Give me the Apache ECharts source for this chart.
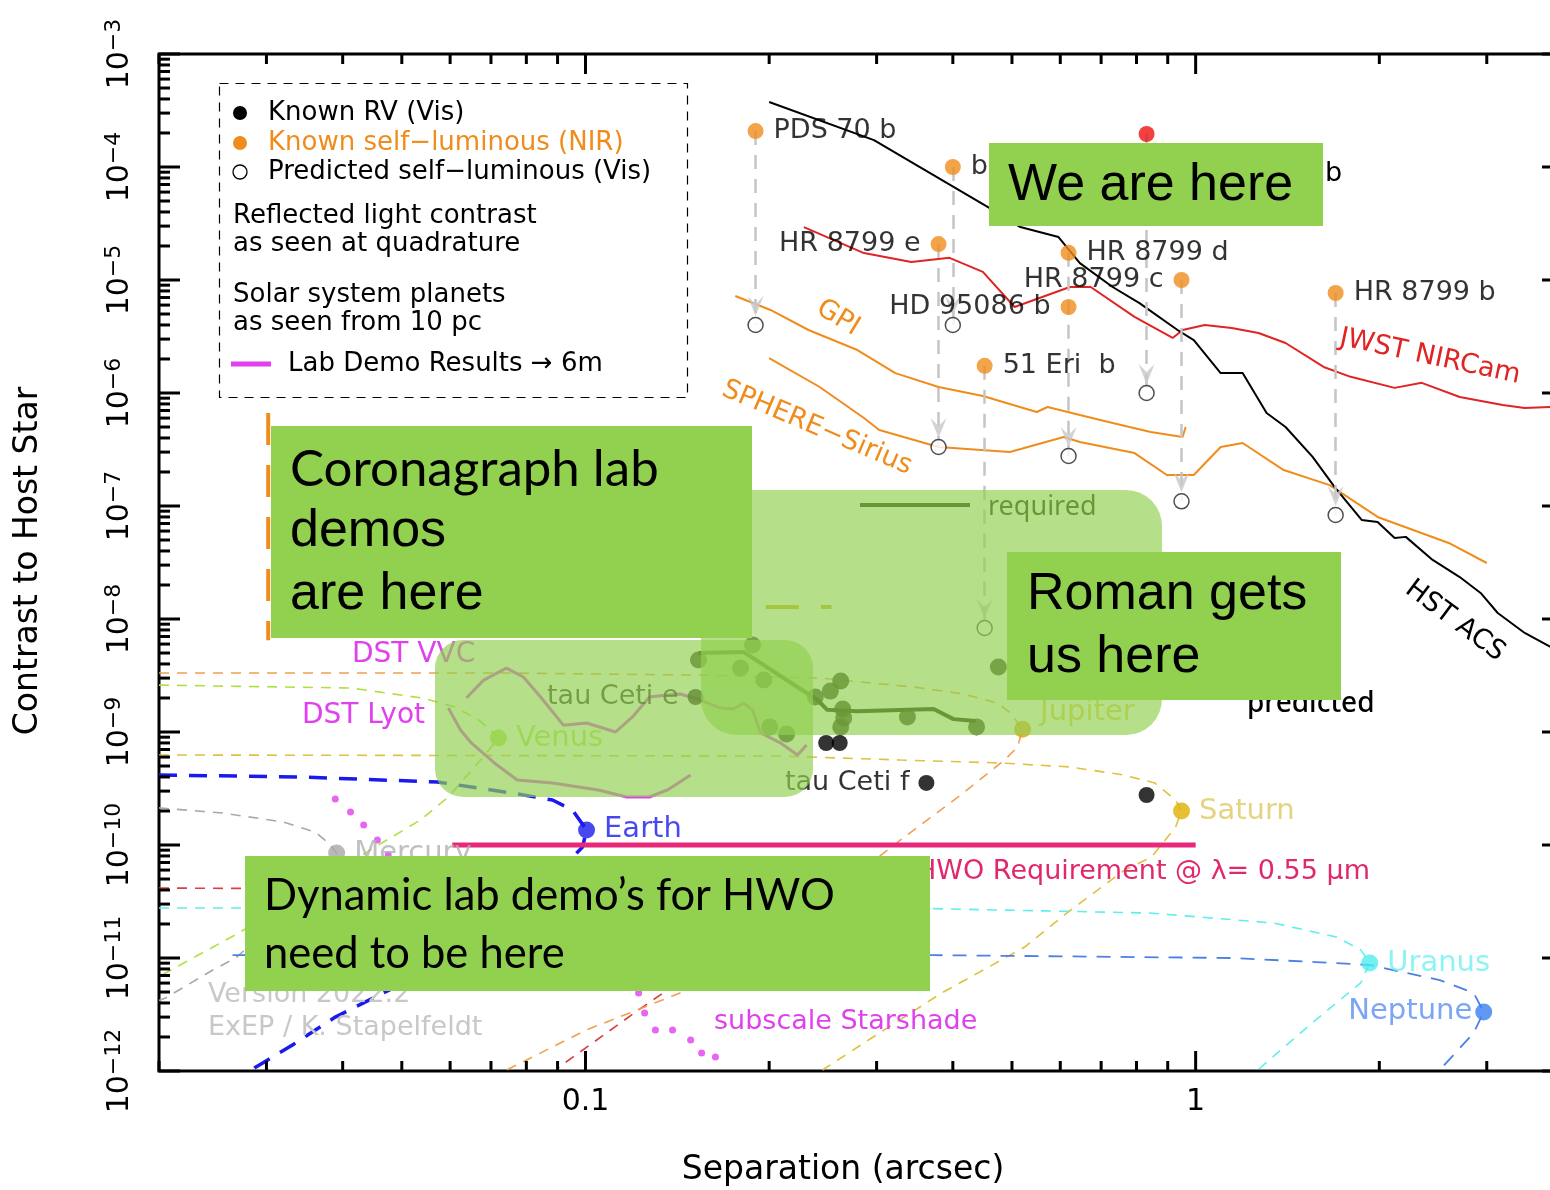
<!DOCTYPE html>
<html>
<head>
<meta charset="utf-8">
<title>Contrast to Host Star vs Separation</title>
<script src="https://cdn.jsdelivr.net/npm/echarts@6/dist/echarts.min.js"></script>
<style>
  html, body { margin: 0; padding: 0; background: #fff; }
  #chart { width: 1550px; height: 1190px; }
</style>
</head>
<body>
<div id="chart"></div>
<script>
  // ---- axes ----
  var xMajorTicks = [0.1, 1];
  var xMinorTicks = [0.02, 0.03, 0.04, 0.05, 0.06, 0.07, 0.08, 0.09,
                     0.2, 0.3, 0.4, 0.5, 0.6, 0.7, 0.8, 0.9, 2, 3, 4];
  var yMajorTicks = [1e-3, 1e-4, 1e-5, 1e-6, 1e-7, 1e-8, 1e-9, 1e-10, 1e-11, 1e-12];
  var yMinorSteps = [2, 3, 4, 5, 6, 7, 8, 9];

  // ---- instrument curves [separation arcsec, contrast] ----
  var hstAcs = [[0.200, 3.76e-4], [0.297, 1.73e-4], [0.456, 4.43e-5], [0.516, 2.94e-5], [0.596, 2.40e-5],
    [0.646, 1.41e-5], [0.731, 8.67e-6], [0.809, 6.25e-6], [0.934, 3.61e-6], [0.993, 2.94e-6],
    [1.099, 1.50e-6], [1.194, 1.50e-6], [1.307, 6.65e-7], [1.404, 5.00e-7], [1.555, 2.72e-7],
    [1.690, 1.47e-7], [1.871, 7.52e-8], [1.987, 7.22e-8], [2.119, 5.21e-8], [2.210, 5.33e-8],
    [2.446, 3.33e-8], [2.709, 2.35e-8], [2.931, 1.70e-8], [3.127, 1.13e-8], [3.462, 7.52e-9],
    [3.819, 5.65e-9], [4.0, 5.0e-9]];
  var jwstNircam = [[0.228, 2.94e-5], [0.286, 1.73e-5], [0.342, 1.44e-5], [0.395, 1.57e-5], [0.448, 1.18e-5],
    [0.505, 5.77e-6], [0.622, 8.67e-6], [0.673, 8.67e-6], [0.794, 4.71e-6], [0.917, 3.07e-6],
    [0.952, 3.61e-6], [1.035, 4.0e-6], [1.146, 3.76e-6], [1.268, 3.40e-6], [1.404, 2.77e-6],
    [1.621, 1.70e-6], [1.795, 1.39e-6], [2.119, 1.11e-6], [2.347, 1.23e-6], [2.709, 9.22e-7],
    [3.186, 7.83e-7], [3.462, 7.37e-7], [3.819, 7.52e-7], [4.0, 7.3e-7]];
  var gpi = [[0.176, 7.22e-6], [0.201, 5.43e-6], [0.232, 3.61e-6], [0.279, 2.40e-6], [0.322, 1.50e-6],
    [0.379, 1.13e-6], [0.448, 9.4e-7], [0.549, 6.79e-7], [0.572, 7.52e-7], [0.646, 6.38e-7],
    [0.731, 5.43e-7], [0.844, 4.52e-7], [0.952, 4.08e-7], [0.963, 5.0e-7]];
  var sphereSirius = [[0.200, 2.04e-6], [0.242, 1.13e-6], [0.286, 6.01e-7], [0.303, 4.71e-7], [0.379, 3.33e-7],
    [0.496, 3.0e-7], [0.608, 4.08e-7], [0.646, 3.68e-7], [0.794, 2.94e-7], [0.897, 1.88e-7],
    [0.993, 1.88e-7], [1.099, 3.33e-7], [1.194, 3.61e-7], [1.394, 2.08e-7], [1.658, 1.53e-7],
    [1.987, 8.0e-8], [2.599, 4.71e-8], [3.0, 3.13e-8]];

  // ---- known self-luminous planets (NIR) and their predicted visible contrast ----
  var selfLumNames = ['PDS 70 b', 'b', 'HR 8799 e', 'HR 8799 d', 'HR 8799 c', 'HD 95086 b', 'HR 8799 b', '51 Eri  b'];
  var selfLumSide = ['right', 'right', 'left', 'right', 'left', 'left', 'right', 'right'];
  var selfLumSep = [0.190, 0.400, 0.379, 0.619, 0.948, 0.619, 1.696, 0.451];
  var selfLumContrast = [2.08e-4, 1.0e-4, 2.08e-5, 1.74e-5, 1.0e-5, 5.77e-6, 7.67e-6, 1.74e-6];
  var redPlanet = [[0.831, 1.96e-4]];

  var predSep = [0.190, 0.400, 0.379, 0.619, 0.948, 1.696, 0.451, 0.831];
  var predTop = [2.08e-4, 1.0e-4, 2.08e-5, 1.74e-5, 1.0e-5, 7.67e-6, 1.74e-6, 1.96e-4];
  var predContrast = [4.0e-6, 4.0e-6, 3.33e-7, 2.77e-7, 1.10e-7, 8.33e-8, 8.33e-9, 1.0e-6];

  // ---- known RV planets ----
  var rvNames = ['tau Ceti e', '', '', 'tau Ceti f', ''];
  var rvSep = [0.1515, 0.248, 0.261, 0.362, 0.831];
  var rvContrast = [2.04e-9, 7.99e-10, 7.99e-10, 3.54e-10, 2.77e-10];

  // ---- Roman predicted points and required curve ----
  var romanSep = [0.1532, 0.1878, 0.1795, 0.196, 0.238, 0.252, 0.262, 0.264, 0.265, 0.262, 0.2004, 0.2136, 0.337, 0.4375, 0.475];
  var romanContrast = [4.34e-9, 5.89e-9, 3.68e-9, 2.88e-9, 2.04e-9, 2.30e-9, 2.83e-9, 1.60e-9, 1.33e-9, 1.11e-9, 1.11e-9, 9.6e-10, 1.36e-9, 1.11e-9, 3.76e-9];
  var romanRequired = [[0.1532, 5.0e-9], [0.1816, 5.1e-9], [0.240, 1.92e-9], [0.249, 1.57e-9], [0.279, 1.53e-9],
    [0.372, 1.60e-9], [0.401, 1.30e-9], [0.436, 1.25e-9]];

  // ---- lab demos ----
  var labDemoVvc = [[0.0638, 2.0e-9], [0.0681, 2.88e-9], [0.0742, 3.68e-9], [0.0791, 3.07e-9], [0.0844, 2.04e-9],
    [0.0920, 1.15e-9], [0.1004, 1.2e-9], [0.1120, 1.0e-9], [0.1194, 1.36e-9], [0.1273, 2.04e-9],
    [0.1363, 2.13e-9], [0.1431, 2.17e-9], [0.1543, 1.92e-9], [0.1664, 1.63e-9], [0.1748, 1.60e-9],
    [0.1816, 1.80e-9], [0.1878, 1.57e-9], [0.1936, 9.8e-10], [0.2088, 8.0e-10], [0.2226, 6.26e-10], [0.2303, 7.67e-10]];
  var labDemoLyot = [[0.0596, 1.63e-9], [0.0624, 1.04e-9], [0.0650, 8.0e-10], [0.0709, 5.32e-10], [0.0773, 3.76e-10],
    [0.0883, 3.54e-10], [0.1050, 3.07e-10], [0.1168, 2.66e-10], [0.1273, 2.66e-10], [0.1363, 3.07e-10], [0.1487, 4.16e-10]];
  var starshadeDots = [[0.0389, 2.55e-10], [0.0412, 1.96e-10], [0.0433, 1.50e-10], [0.0456, 1.11e-10], [0.0475, 8.16e-11],
    [0.1222, 4.9e-12], [0.125, 3.26e-12], [0.1302, 2.31e-12], [0.1389, 2.31e-12], [0.1487, 1.88e-12], [0.155, 1.44e-12], [0.1633, 1.33e-12]];
  var hwoRequirement = [[0.0605, 1e-10], [1.0, 1e-10]];
  var orangeDashLeft = [[0.0302, 6.65e-7], [0.0302, 6.5e-9]];
  var goldDashMid = [[0.0305, 1.28e-8], [0.253, 1.28e-8]];

  // ---- solar system planets seen from 10 pc ----
  var mercuryCurve = [[0.02, 2.13e-10], [0.0254, 1.92e-10], [0.0319, 1.6e-10], [0.0361, 1.3e-10], [0.0379, 1.04e-10],
    [0.0391, 8.5e-11], [0.0328, 2.66e-11], [0.0267, 1.0e-11], [0.0245, 7.83e-12], [0.0205, 4.43e-12], [0.02, 4.2e-12]];
  var venusCurve = [[0.02, 2.6e-9], [0.0412, 2.45e-9], [0.0540, 2.0e-9], [0.0612, 1.66e-9], [0.0668, 1.28e-9],
    [0.0699, 1.04e-9], [0.0720, 8.85e-10], [0.0673, 5.65e-10], [0.0596, 2.66e-10], [0.0536, 1.66e-10],
    [0.0452, 9.6e-11], [0.0341, 3.61e-11], [0.0270, 1.66e-11], [0.0205, 7.37e-12], [0.02, 7.0e-12]];
  var earthCurve = [[0.02, 4.16e-10], [0.0341, 4.0e-10], [0.0572, 3.61e-10], [0.0759, 2.88e-10], [0.0883, 2.5e-10],
    [0.0952, 2.04e-10], [0.1004, 1.36e-10], [0.0989, 9.6e-11], [0.0782, 2.66e-11], [0.0601, 9.6e-12],
    [0.0452, 4.51e-12], [0.0389, 3.0e-12], [0.0331, 1.7e-12], [0.0288, 1.08e-12], [0.0283, 1.0e-12]];
  var marsCurve = [[0.02, 4.16e-11], [0.1019, 4.0e-11], [0.1378, 3.47e-11], [0.1515, 2.55e-11], [0.1487, 1.96e-11],
    [0.1347, 5.0e-12], [0.1222, 3.47e-12], [0.090, 1.06e-12]];
  var jupiterCurve = [[0.02, 3.33e-9], [0.0726, 3.33e-9], [0.1543, 3.19e-9], [0.2427, 3.0e-9], [0.345, 2.5e-9],
    [0.4165, 2.17e-9], [0.4736, 1.8e-9], [0.4973, 1.47e-9], [0.5205, 1.06e-9], [0.5107, 7.37e-10],
    [0.4862, 5.65e-10], [0.412, 2.77e-10], [0.3284, 1.11e-10], [0.2252, 2.26e-11], [0.1543, 5.77e-12],
    [0.1004, 2.31e-12], [0.0742, 1.02e-12]];
  var saturnCurve = [[0.02, 6.26e-10], [0.2088, 6.13e-10], [0.3284, 5.65e-10], [0.479, 5.32e-10], [0.624, 4.9e-10],
    [0.762, 4.16e-10], [0.857, 3.54e-10], [0.927, 2.5e-10], [0.948, 2.0e-10], [0.927, 1.44e-10],
    [0.847, 7.83e-11], [0.765, 6.01e-11], [0.615, 2.5e-11], [0.5245, 1.25e-11], [0.3835, 4.9e-12],
    [0.291, 1.88e-12], [0.2446, 1.02e-12]];
  var uranusCurve = [[0.02, 2.77e-11], [0.3284, 2.77e-11], [0.841, 2.5e-11], [1.342, 2.04e-11], [1.703, 1.53e-11],
    [1.864, 1.18e-11], [1.929, 9.03e-12], [1.864, 6.01e-12], [1.573, 2.83e-12], [1.264, 1.02e-12]];
  var neptuneCurve = [[0.0264, 1.06e-11], [0.372, 1.06e-11], [1.150, 1.0e-11], [1.573, 9.2e-12], [1.929, 8.67e-12],
    [2.512, 6.38e-12], [2.855, 4.9e-12], [2.966, 3.33e-12], [2.855, 2.17e-12], [2.512, 1.02e-12]];

  var planetNames = ['Mercury', 'Venus', 'Earth', 'Jupiter', 'Saturn', 'Uranus', 'Neptune'];
  var planetSep = [0.0391, 0.0720, 0.1004, 0.5205, 0.948, 1.929, 2.966];
  var planetContrast = [8.5e-11, 8.85e-10, 1.36e-10, 1.06e-9, 2.0e-10, 9.03e-12, 3.33e-12];
  var planetColors = ['#a8a8a8', '#a8e038', '#1a1aee', '#e0a010', '#e0b000', '#50eeee', '#3a7ef0'];
  var planetLabelColors = ['#b0b0b0', '#a8e038', '#1a1aee', '#e0c030', '#e0c860', '#70f0f0', '#5a90f0'];

  var FONT = '"DejaVu Sans", sans-serif';
  var ORANGE = '#f08c1c';
  var MAGENTA = '#e040ee';

  function pairs(xs, ys) {
    return xs.map(function (x, i) { return [x, ys[i]]; });
  }

  function curve(data, color, width, dash) {
    return {
      type: 'line', data: data, symbol: 'none', silent: true, z: 2,
      lineStyle: { color: color, width: width, type: dash || 'solid' }
    };
  }

  // tick marks on all four sides
  var tickData = [];
  xMajorTicks.forEach(function (v) { tickData.push([v, 1e-3, 20, 0]); });
  xMinorTicks.forEach(function (v) { tickData.push([v, 1e-3, 10, 0]); });
  yMajorTicks.forEach(function (v) {
    tickData.push([0.02, v, 21, 1]);
    if (v < 1e-3) {
      yMinorSteps.forEach(function (m) { tickData.push([0.02, v * m, 11, 1]); });
    }
  });

  var series = [
    {
      type: 'custom', silent: true, z: 6, data: tickData,
      renderItem: function (params, api) {
        var cs = params.coordSys;
        var p = api.coord([api.value(0), api.value(1)]);
        var len = api.value(2);
        var segs;
        if (api.value(3) === 0) {
          segs = [[p[0], cs.y + cs.height, p[0], cs.y + cs.height - len], [p[0], cs.y, p[0], cs.y + len]];
        } else {
          segs = [[cs.x, p[1], cs.x + len, p[1]], [cs.x + cs.width, p[1], cs.x + cs.width - len, p[1]]];
        }
        return {
          type: 'group',
          children: segs.map(function (s) {
            return { type: 'line', shape: { x1: s[0], y1: s[1], x2: s[2], y2: s[3] }, style: { stroke: '#000', lineWidth: 3 } };
          })
        };
      }
    },
    // solar system planet phase curves
    curve(mercuryCurve, '#a8a8a8', 1.6, [10, 8]),
    curve(venusCurve, '#b0e040', 1.6, [10, 8]),
    curve(marsCurve, '#d84040', 1.6, [10, 8]),
    curve(jupiterCurve, '#f0a050', 1.6, [10, 8]),
    curve(saturnCurve, '#e0c040', 1.6, [10, 8]),
    curve(uranusCurve, '#60eeee', 1.6, [10, 8]),
    curve(neptuneCurve, '#4a80e8', 1.8, [14, 10]),
    curve(earthCurve, '#1a1aee', 3.5, [18, 12]),
    curve(orangeDashLeft, ORANGE, 4, [32, 20]),
    curve(goldDashMid, '#d0b020', 4, [33, 22]),
    // instruments
    curve(gpi, ORANGE, 2),
    curve(sphereSirius, ORANGE, 2),
    curve(jwstNircam, '#e02424', 2),
    curve(hstAcs, '#000', 2),
    // lab demos
    curve(labDemoVvc, MAGENTA, 3),
    curve(labDemoLyot, MAGENTA, 3),
    curve(hwoRequirement, '#e8287a', 5),
    curve(romanRequired, '#102000', 4),
    {
      type: 'scatter', silent: true, z: 3, symbolSize: 7,
      itemStyle: { color: MAGENTA }, data: starshadeDots
    },
    // drop lines from NIR to predicted visible contrast
    {
      type: 'lines', coordinateSystem: 'cartesian2d', silent: true, z: 3,
      lineStyle: { color: '#c4c4c4', width: 2.5, type: [14, 10], opacity: 1 },
      data: predSep.map(function (s, i) { return { coords: [[s, predTop[i]], [s, predContrast[i]]] }; })
    },
    {
      type: 'scatter', silent: true, z: 4,
      symbol: 'path://M0,0 L8,15 L16,0 L8,6 Z', symbolSize: [16, 20], symbolOffset: [0, -19],
      itemStyle: { color: '#c8c8c8' }, data: pairs(predSep, predContrast)
    },
    {
      type: 'scatter', silent: true, z: 5, symbolSize: 15,
      itemStyle: { color: '#fff', borderColor: '#222', borderWidth: 1.5 },
      data: pairs(predSep, predContrast)
    },
    {
      type: 'scatter', silent: true, z: 5, symbolSize: 16,
      itemStyle: { color: ORANGE },
      label: { show: true, distance: 10, color: '#000', fontSize: 27, fontFamily: FONT, formatter: '{b}' },
      data: selfLumSep.map(function (s, i) {
        return { name: selfLumNames[i], value: [s, selfLumContrast[i]], label: { position: selfLumSide[i] } };
      })
    },
    {
      type: 'scatter', silent: true, z: 5, symbolSize: 16,
      itemStyle: { color: '#ee1111' }, data: redPlanet
    },
    {
      type: 'scatter', silent: true, z: 5, symbolSize: 17,
      itemStyle: { color: '#102000' }, data: pairs(romanSep, romanContrast)
    },
    {
      type: 'scatter', silent: true, z: 5, symbolSize: 16,
      itemStyle: { color: '#000' },
      label: { show: true, position: 'left', distance: 9, color: '#000', fontSize: 27, fontFamily: FONT, formatter: '{b}' },
      data: rvSep.map(function (s, i) { return { name: rvNames[i], value: [s, rvContrast[i]] }; })
    },
    {
      type: 'scatter', silent: true, z: 5, symbolSize: 17,
      label: { show: true, position: 'right', distance: 9, fontSize: 29, fontFamily: FONT, formatter: '{b}' },
      data: planetSep.map(function (s, i) {
        var lab = { color: planetLabelColors[i] };
        if (planetNames[i] === 'Neptune') { lab.position = 'left'; lab.distance = 3; }
        if (planetNames[i] === 'Jupiter') { lab.offset = [0, -17]; }
        return { name: planetNames[i], value: [s, planetContrast[i]], itemStyle: { color: planetColors[i] }, label: lab };
      })
    }
  ];

  function txt(x, y, s, o) {
    o = o || {};
    return {
      type: 'text', x: x, y: y, rotation: o.rot || 0, z: o.z || 10, silent: true,
      style: {
        text: s, fill: o.color || '#000',
        font: (o.weight || 'normal') + ' ' + (o.size || 26) + 'px ' + (o.family || FONT),
        align: o.align || 'left', textAlign: o.align || 'left',
        verticalAlign: 'middle', textVerticalAlign: 'middle'
      }
    };
  }
  function box(x, y, w, h) {
    return { type: 'rect', z: 60, silent: true, shape: { x: x, y: y, width: w, height: h }, style: { fill: '#92d050' } };
  }
  function veil(x, y, w, h, r) {
    return { type: 'rect', z: 50, silent: true, shape: { x: x, y: y, width: w, height: h, r: r }, style: { fill: '#92d050', opacity: 0.68 } };
  }
  var ARIAL = '"Liberation Sans", Arial, sans-serif';
  var CALIBRI = 'Lato, "Noto Sans", sans-serif';

  var graphics = [
    // legend
    { type: 'rect', z: 10, silent: true, shape: { x: 219.5, y: 83.5, width: 468, height: 314 },
      style: { fill: 'none', stroke: '#000', lineWidth: 1.2, lineDash: [9, 7] } },
    { type: 'circle', z: 10, silent: true, shape: { cx: 240, cy: 113, r: 7 }, style: { fill: '#000' } },
    { type: 'circle', z: 10, silent: true, shape: { cx: 240, cy: 143, r: 7 }, style: { fill: ORANGE } },
    { type: 'circle', z: 10, silent: true, shape: { cx: 240, cy: 172, r: 7 }, style: { fill: '#fff', stroke: '#000', lineWidth: 1.3 } },
    { type: 'line', z: 10, silent: true, shape: { x1: 231, y1: 364, x2: 271, y2: 364 }, style: { stroke: MAGENTA, lineWidth: 5 } },
    txt(268, 113, 'Known RV (Vis)'),
    txt(268, 143, 'Known self\u2212luminous (NIR)', { color: ORANGE }),
    txt(268, 172, 'Predicted self\u2212luminous (Vis)'),
    txt(233, 216, 'Reflected light contrast'),
    txt(233, 244, 'as seen at quadrature'),
    txt(233, 295, 'Solar system planets'),
    txt(233, 323, 'as seen from 10 pc'),
    txt(288, 364, 'Lab Demo Results \u2192 6m'),

    // curve labels
    txt(838, 318, 'GPI', { color: ORANGE, rot: -0.55, align: 'center', size: 27 }),
    txt(817, 428, 'SPHERE\u2212Sirius', { color: ORANGE, rot: -0.40, align: 'center', size: 27 }),
    txt(1430, 357, 'JWST NIRCam', { color: '#e02424', rot: -0.21, align: 'center', size: 27 }),
    txt(1455, 621, 'HST ACS', { rot: -0.64, align: 'center', size: 27 }),
    txt(1325, 174, 'b', { size: 27 }),
    txt(352, 655, 'DST VVC', { color: MAGENTA, size: 28 }),
    txt(302, 716, 'DST Lyot', { color: MAGENTA, size: 28 }),
    txt(714, 1022, 'subscale Starshade', { color: MAGENTA, size: 27 }),
    txt(916, 872, 'HWO Requirement @ \u03bb= 0.55 \u03bcm', { color: '#e0286e', size: 27 }),
    { type: 'line', z: 10, silent: true, shape: { x1: 860, y1: 505, x2: 970, y2: 505 }, style: { stroke: '#102000', lineWidth: 4 } },
    txt(988, 507, 'required', { size: 27, family: '"Noto Sans", sans-serif', color: '#102000' }),
    txt(1247, 704, 'predicted', { size: 28, family: '"Noto Sans", sans-serif', weight: '500' }),
    txt(208, 995, 'Version 2022.2', { color: '#c8c8c8', size: 27 }),
    txt(208, 1028, 'ExEP / K. Stapelfeldt', { color: '#c8c8c8', size: 27 }),

    // axis titles
    txt(843, 1170, 'Separation (arcsec)', { align: 'center', size: 33 }),
    txt(28, 561, 'Contrast to Host Star', { align: 'center', size: 33, rot: Math.PI / 2 }),

    // translucent highlight regions
    veil(435, 640, 378, 157, 28),
    veil(701, 490, 461, 245, 36),

    // annotation boxes
    box(989, 143, 334, 83),
    box(271, 426, 481, 212),
    box(1007, 552, 334, 148),
    box(245, 856, 685, 135),
    txt(1008, 186, 'We are here', { z: 61, size: 52, family: ARIAL }),
    txt(290, 470, 'Coronagraph lab', { z: 61, size: 51, family: CALIBRI }),
    txt(290, 532, 'demos', { z: 61, size: 52, family: ARIAL }),
    txt(290, 595, 'are here', { z: 61, size: 52, family: ARIAL }),
    txt(1027, 595, 'Roman gets', { z: 61, size: 52, family: ARIAL }),
    txt(1027, 658, 'us here', { z: 61, size: 52, family: ARIAL }),
    txt(264, 896, 'Dynamic lab demo\u2019s for HWO', { z: 61, size: 43.5, family: CALIBRI }),
    txt(264, 954, 'need to be here', { z: 61, size: 43.5, family: CALIBRI })
  ];

  var chart = echarts.init(document.getElementById('chart'));
  chart.setOption({
    animation: false,
    backgroundColor: '#fff',
    grid: {
      left: 159, top: 54, width: 1404, height: 1017,
      outerBoundsMode: 'none', containLabel: false,
      show: true, borderColor: '#000', borderWidth: 3
    },
    xAxis: {
      type: 'log', logBase: 10, min: 0.02, max: 4,
      axisLine: { show: false }, axisTick: { show: false }, splitLine: { show: false },
      axisLabel: {
        margin: 16, color: '#000', fontSize: 30, fontFamily: FONT,
        formatter: function (v) {
          if (Math.abs(v - 0.1) < 1e-9) return '0.1';
          if (Math.abs(v - 1) < 1e-9) return '1';
          return '';
        }
      }
    },
    yAxis: {
      type: 'log', logBase: 10, min: 1e-12, max: 1e-3, splitNumber: 9,
      axisLine: { show: false }, axisTick: { show: false }, splitLine: { show: false },
      axisLabel: {
        rotate: 90, margin: 24, color: '#000',
        formatter: function (v) {
          var e = Math.round(Math.log(v) / Math.LN10);
          return '{b|10}{s|\u2212' + (-e) + '}';
        },
        rich: {
          b: { fontSize: 30, fontFamily: FONT, color: '#000', lineHeight: 32, verticalAlign: 'bottom' },
          s: { fontSize: 22, fontFamily: FONT, color: '#000', lineHeight: 24, verticalAlign: 'top', padding: [0, 0, 18, 0] }
        }
      }
    },
    series: series,
    graphic: { elements: graphics }
  });
</script>
</body>
</html>
